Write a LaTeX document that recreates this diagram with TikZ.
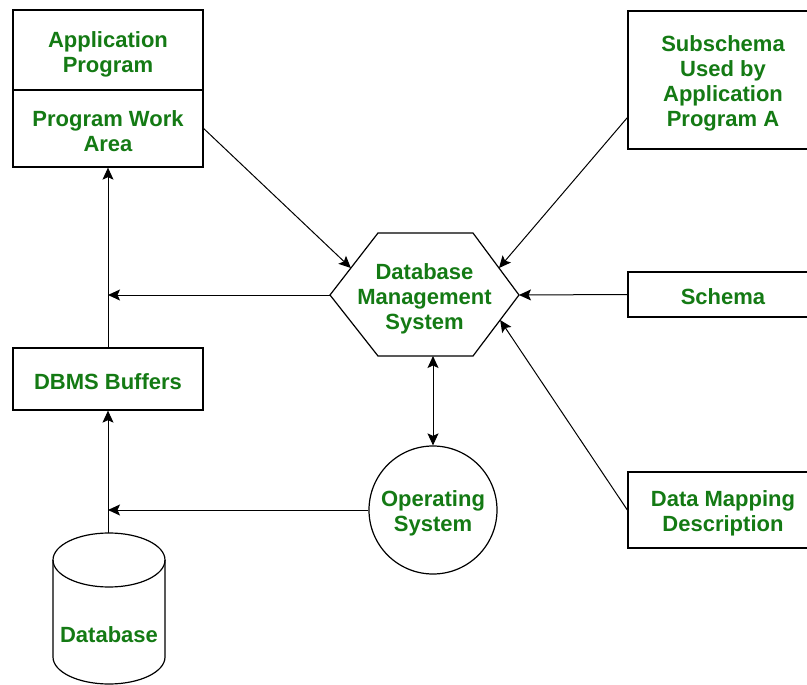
\documentclass[tikz,border=0pt]{standalone}
\usepackage{fontspec}
\setmainfont{Liberation Sans}
\usetikzlibrary{arrows.meta,calc}
\definecolor{labelgreen}{RGB}{20,122,20}
\begin{document}
\begin{tikzpicture}[x=1pt,y=-1pt,
  lbl/.style={font=\fontsize{22}{25}\selectfont\bfseries, text=labelgreen, align=center, inner sep=0pt},
  box/.style={draw=black, line width=1.3pt, rectangle, minimum width=190pt, inner sep=0pt},
  shapeline/.style={draw=black, line width=1.2pt},
  conn/.style={draw=black, line width=1pt, -{Stealth[length=12pt,width=11pt,inset=2.5pt]}},
  biconn/.style={draw=black, line width=1pt, {Stealth[length=12pt,width=11pt,inset=2.5pt]}-{Stealth[length=12pt,width=11pt,inset=2.5pt]}}]
\useasboundingbox (0,0) rectangle (807,685);

% application program with its work area
\node[box, minimum height=80pt, label={[lbl,yshift=-4pt]center:Application\\Program}] (ap) at (108,50) {};
\node[box, minimum height=77pt, label={[lbl,yshift=-3pt]center:Program Work\\Area}] (pwa) at (108,128.5) {};

% descriptions on the right
\node[box, minimum height=138pt, label={[lbl,yshift=-3.5pt]center:Subschema\\Used by\\Application\\Program A}] (sub) at (723,80) {};
\node[box, minimum height=45pt, label={[lbl,yshift=-2.5pt]center:Schema}] (sch) at (723,294.5) {};
\node[box, minimum height=76pt, label={[lbl,yshift=-3.5pt]center:Data Mapping\\Description}] (dm) at (723,510) {};

% buffers
\node[box, minimum height=62pt, label={[lbl,yshift=-3pt]center:DBMS Buffers}] (buf) at (108,379) {};

% operating system
\node[draw=black, line width=1.2pt, circle, minimum size=128pt, inner sep=0pt,
      label={[lbl,yshift=-3pt]center:Operating\\System}] (os) at (433,510) {};

% database management system hexagon
\coordinate (hL) at (330,295);
\coordinate (hTL) at (378,233);
\coordinate (hTR) at (473,233);
\coordinate (hR) at (519,295);
\coordinate (hBR) at (473,356);
\coordinate (hBL) at (378,356);
\coordinate (hB) at (433,356);
\draw[shapeline] (hL) -- (hTL) -- (hTR) -- (hR) -- (hBR) -- (hBL) -- cycle;
\node[lbl] (dbms) at (424.5,299) {Database\\Management\\System};

% database cylinder
\coordinate (dbtop) at (108,533);
\draw[shapeline] (53,560) -- (53,657) arc[start angle=180, end angle=360, x radius=56pt, y radius=27pt] -- (165,560);
\draw[shapeline] (109,560) ellipse[x radius=56pt, y radius=27pt];
\node[lbl] (db) at (109,635) {Database};

% connectors
\coordinate (inTL) at ($(hL)!0.435!(hTL)$);
\coordinate (inTR) at ($(hR)!0.435!(hTR)$);
\coordinate (inBR) at ($(hR)!0.41!(hBR)$);
\draw[conn] (pwa.east) -- (inTL);
\draw[conn] ($(sub.south west)!0.23!(sub.north west)$) -- (inTR);
\draw[conn] (sch.west) -- (hR);
\draw[conn] (dm.west) -- (inBR);
\draw[conn] (hL) -- (buf.north |- hL);
\draw[conn] (buf.north) -- (pwa.south);
\draw[conn] (dbtop) -- (buf.south);
\draw[conn] (os.west) -- (buf.south |- os.west);
\draw[biconn] (hB) -- (os.north);
\end{tikzpicture}
\end{document}
